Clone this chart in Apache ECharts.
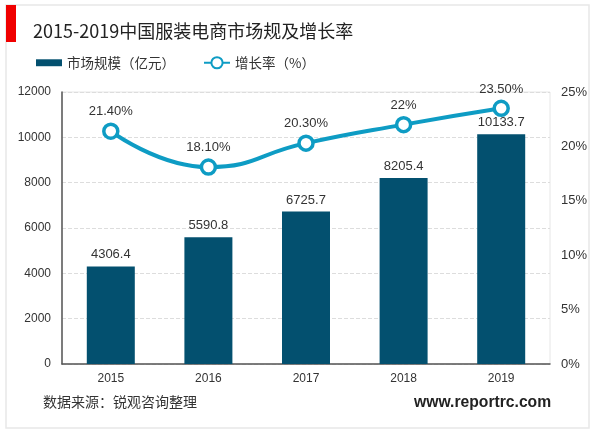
<!DOCTYPE html>
<html>
<head>
<meta charset="utf-8">
<style>html,body{margin:0;padding:0;background:#fff}</style>
<script src="https://cdn.jsdelivr.net/npm/echarts@6/dist/echarts.min.js"></script>
</head>
<body>
<div id="main" style="width:600px;height:433px"></div>
<script>
var years = ['2015', '2016', '2017', '2018', '2019'];
var marketSize = [4306.4, 5590.8, 6725.7, 8205.4, 10133.7];
var growthRate = [21.4, 18.1, 20.3, 22, 23.5];
var growthLabels = ['21.40%', '18.10%', '20.30%', '22%', '23.50%'];

var cjk = '"Noto Sans CJK SC", sans-serif';
var latin = '"Liberation Sans", Arial, sans-serif';

var myChart = echarts.init(document.getElementById('main'));
myChart.setOption({
    animation: false,
    backgroundColor: '#fff',
    textStyle: { fontFamily: latin },
    title: {
        text: '2015-2019中国服装电商市场规及增长率',
        left: 28, top: 17,
        textStyle: { fontFamily: cjk, fontSize: 18, fontWeight: 'normal', color: '#222' }
    },
    legend: {
        left: 31, top: 51,
        itemGap: 28, itemWidth: 26, itemHeight: 14,
        textStyle: { fontFamily: cjk, fontSize: 13.5, color: '#333' },
        data: [
            { name: '市场规模（亿元）', icon: 'path://M0 5H30V13H0Z' },
            { name: '增长率（%）' }
        ]
    },
    grid: { show: true, borderColor: '#e6e6e6', left: 62, right: 50, top: 92, bottom: 69 },
    xAxis: {
        type: 'category',
        data: years,
        axisTick: { show: false },
        axisLine: { lineStyle: { color: '#555', width: 1.5 } },
        axisLabel: { color: '#333', fontSize: 12, margin: 9 }
    },
    yAxis: [{
        type: 'value', min: 0, max: 12000, interval: 2000,
        axisLine: { show: true, lineStyle: { color: '#555', width: 1.5 } },
        axisTick: { show: false },
        axisLabel: { color: '#333', fontSize: 12, margin: 11, formatter: function (v) { return String(v); } },
        splitLine: { lineStyle: { color: '#ddd', type: 'dashed' } }
    }, {
        type: 'value', min: 0, max: 25, interval: 5,
        axisLine: { show: false },
        axisTick: { show: false },
        axisLabel: { color: '#333', fontSize: 13, margin: 11, formatter: '{value}%' },
        splitLine: { show: false }
    }],
    series: [{
        name: '市场规模（亿元）',
        type: 'bar',
        barWidth: 48,
        itemStyle: { color: '#03506f' },
        label: { show: true, position: 'top', color: '#333', fontSize: 13, distance: 5 },
        data: marketSize
    }, {
        name: '增长率（%）',
        type: 'line',
        yAxisIndex: 1,
        smooth: true,
        symbol: 'circle',
        symbolSize: 14,
        lineStyle: { color: '#0e9cc4', width: 4 },
        itemStyle: { color: '#fff', borderColor: '#0e9cc4', borderWidth: 3.5 },
        label: {
            show: true, position: 'top', color: '#333', fontSize: 13, distance: 4,
            formatter: function (p) { return growthLabels[p.dataIndex]; }
        },
        data: growthRate
    }],
    graphic: [
        { type: 'rect', z: -1, shape: { x: 6, y: 5, width: 583, height: 423 }, style: { fill: '#fff', stroke: '#e8e8e8', lineWidth: 1.5 } },
        { type: 'rect', shape: { x: 6, y: 5, width: 10, height: 37 }, style: { fill: '#f00000' } },
        { type: 'text', left: 43, top: 395, style: { text: '数据来源：锐观咨询整理', font: '14px ' + cjk, fill: '#333' } },
        { type: 'text', left: 414, top: 395, style: { text: 'www.reportrc.com', font: 'bold 15.7px "Liberation Sans", Arial, sans-serif', fill: '#222' } }
    ]
});
</script>
</body>
</html>
